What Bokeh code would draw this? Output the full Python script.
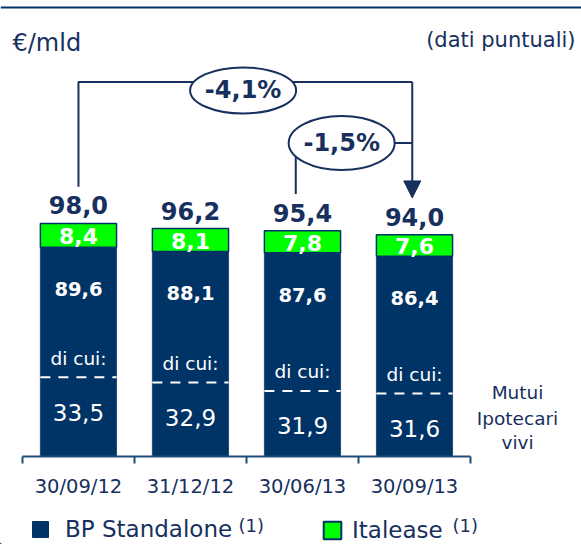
from bokeh.plotting import figure
from bokeh.models import (ColumnDataSource, Range1d, FixedTicker, Label, Legend, LegendItem,
                          Span, Arrow, NormalHead)
from bokeh.layouts import column
from bokeh.core.properties import value
from bokeh.embed import file_html
from bokeh.resources import INLINE

# ---------------- data ----------------
categories = ["30/09/12", "31/12/12", "30/06/13", "30/09/13"]
bp_standalone = [89.6, 88.1, 87.6, 86.4]
italease = [8.4, 8.1, 7.8, 7.6]
mutui_ipotecari = [33.5, 32.9, 31.9, 31.6]
series_names = ["BP Standalone", "Italease"]
unit_label = "€/mld"
note_label = "(dati puntuali)"
side_label = ["Mutui", "Ipotecari", "vivi"]
sub_label = "di cui:"
footnote = "(1)"

# ---------------- styles ----------------
NAVY = "#003366"
EDGE = "#1F4E79"
TXT = "#17305E"
GREEN = "#00FF00"
FONT = value("DejaVu Sans")


def fmt(v):
    return f"{v:.1f}".replace(".", ",")


def pct(a, b):
    return f"{(b - a) / a * 100:.1f}%".replace(".", ",")


idx = list(range(len(categories)))
totals = [round(a + b, 1) for a, b in zip(bp_standalone, italease)]

src = ColumnDataSource(dict(
    x=idx,
    bp=bp_standalone,
    it=italease,
    total=totals,
    it_mid=[a + b / 2 for a, b in zip(bp_standalone, italease)],
    mort=mutui_ipotecari,
    x0=[i - 0.34 for i in idx],
    x1=[i + 0.34 for i in idx],
    total_txt=[fmt(v) for v in totals],
    bp_txt=[fmt(v) for v in bp_standalone],
    it_txt=[fmt(v) for v in italease],
    mort_txt=[fmt(v) for v in mutui_ipotecari],
    sub=[sub_label] * len(idx),
))

p = figure(width=581, height=505, x_range=Range1d(-0.696, 4.491), y_range=Range1d(15.6, 176.8),
           output_backend="svg", toolbar_location=None, y_axis_location=None,
           min_border_left=0, min_border_right=0, min_border_top=0, min_border_bottom=49)
p.extra_y_ranges = {"mort": Range1d(24.17, 77.9)}
p.outline_line_color = None
p.grid.visible = False
p.background_fill_color = "white"

# bars
navy_r = p.vbar(x="x", width=0.68, bottom=0, top="bp", source=src,
                fill_color=NAVY, line_color=EDGE, line_width=1)
green_r = p.vbar(x="x", width=0.68, bottom="bp", top="total", source=src,
                 fill_color=GREEN, line_color=NAVY, line_width=1.5)

# dashed divider for mortgages
p.segment(x0="x0", x1="x1", y0="mort", y1="mort", source=src, y_range_name="mort",
          line_color="white", line_width=2, line_dash="10 8")

# texts in bars
p.text(x="x", y="total", text="total_txt", source=src, y_offset=-18,
       text_align="center", text_baseline="middle", text_font=FONT,
       text_font_style="bold", text_font_size="24px", text_color=TXT)
p.text(x="x", y="it_mid", text="it_txt", source=src, y_offset=1,
       text_align="center", text_baseline="middle", text_font=FONT,
       text_font_style="bold", text_font_size="22px", text_color="white")
p.text(x="x", y="bp", text="bp_txt", source=src, y_offset=42,
       text_align="center", text_baseline="middle", text_font=FONT,
       text_font_style="bold", text_font_size="19.5px", text_color="white")
p.text(x="x", y="mort", text="sub", source=src, y_range_name="mort", y_offset=-19,
       text_align="center", text_baseline="middle", text_font=FONT,
       text_font_size="18.5px", text_color="white")
p.text(x="x", y="mort", text="mort_txt", source=src, y_range_name="mort", y_offset=35,
       text_align="center", text_baseline="middle", text_font=FONT,
       text_font_size="23px", text_color="white")

# brackets with change percentages
gap = 13
level_a = max(totals) + 50
level_b = totals[2] + 31
last = len(idx) - 1
p.line(x=[0, 0, last - 0.02], y=[totals[0] + gap, level_a, level_a], line_color=TXT, line_width=2)
p.line(x=[2 - 0.06, 2 - 0.06, last - 0.02], y=[totals[2] + gap, level_b, level_b],
       line_color=TXT, line_width=2)
p.add_layout(Arrow(end=NormalHead(size=17, fill_color=TXT, line_color=TXT),
                   x_start=last - 0.02, y_start=level_a, x_end=last - 0.02, y_end=totals[last] + gap,
                   line_color=TXT, line_width=2))
ell_x = [1.47, 2.35]
ell_y = [level_a - 3, level_b]
p.ellipse(x=ell_x, y=ell_y, width=[106, 106], height=[46, 54], width_units="screen",
          height_units="screen", fill_color="white", line_color=TXT, line_width=2)
p.text(x=ell_x, y=ell_y, text=[pct(totals[0], totals[last]), pct(totals[2], totals[last])],
       text_align="center", text_baseline="middle", text_font=FONT, text_font_style="bold",
       text_font_size="24px", text_color=TXT)

# top rule
p.add_layout(Span(location=174.3, dimension="width", line_color=NAVY, line_width=2))

# header texts
p.add_layout(Label(x=-0.589, y=161.6, text=unit_label, text_align="left", text_baseline="middle",
                   text_font="DejaVu Sans", text_font_size="24px", text_color=TXT))
p.add_layout(Label(x=4.4375, y=162.7, text=note_label, text_align="right", text_baseline="middle",
                   text_font="DejaVu Sans", text_font_size="21px", text_color=TXT))
for t, yy in zip(side_label, [38.3, 29.1, 20.6]):
    p.add_layout(Label(x=3.92, y=yy, text=t, text_align="center", text_baseline="middle",
                       text_font="DejaVu Sans", text_font_size="18.5px", text_color=TXT))

# axis
ax = p.xaxis[0]
ax.ticker = FixedTicker(ticks=idx, minor_ticks=[i - 0.5 for i in idx] + [last + 0.5])
ax.major_label_overrides = {i: c for i, c in zip(idx, categories)}
ax.bounds = (-0.5, last + 0.5)
ax.axis_line_color = EDGE
ax.axis_line_width = 2
ax.major_tick_line_color = None
ax.major_tick_out = 0
ax.major_tick_in = 0
ax.minor_tick_line_color = EDGE
ax.minor_tick_line_width = 2
ax.minor_tick_out = 7
ax.minor_tick_in = 0
ax.major_label_standoff = 11
ax.major_label_text_font = "DejaVu Sans"
ax.major_label_text_font_size = "19.5px"
ax.major_label_text_color = TXT

# ---------------- legend strip ----------------
lf = figure(width=581, height=39, x_range=Range1d(0, 581), y_range=Range1d(0, 39),
            output_backend="svg", toolbar_location=None, x_axis_location=None, y_axis_location=None,
            min_border_left=0, min_border_right=0, min_border_top=0, min_border_bottom=0)
lf.outline_line_color = None
lf.grid.visible = False
d_navy = lf.vbar(x=[-100], top=[1], width=1, fill_color=NAVY, line_color=NAVY, line_width=1)
d_green = lf.vbar(x=[-100], top=[1], width=1, fill_color=GREEN, line_color=NAVY, line_width=2)
for rend, name, loc, gs, sd in [(d_navy, series_names[0], (30, 2), 20, 15),
                                (d_green, series_names[1], (321, 1), 22, 9)]:
    leg = Legend(items=[LegendItem(label=name, renderers=[rend])], location=loc,
                 orientation="horizontal", glyph_width=gs, glyph_height=gs, label_standoff=sd,
                 padding=0, margin=0, spacing=0, border_line_color=None, background_fill_alpha=0,
                 label_text_font="DejaVu Sans", label_text_font_size="23px",
                 label_text_color=TXT, label_height=gs)
    lf.add_layout(leg)
for xx in [238, 452]:
    lf.add_layout(Label(x=xx, y=19, text=footnote, text_align="left", text_baseline="middle",
                        text_font="DejaVu Sans", text_font_size="18px", text_color=TXT))

layout = column(p, lf, spacing=0)
open("out.html", "w").write(file_html(layout, INLINE))
